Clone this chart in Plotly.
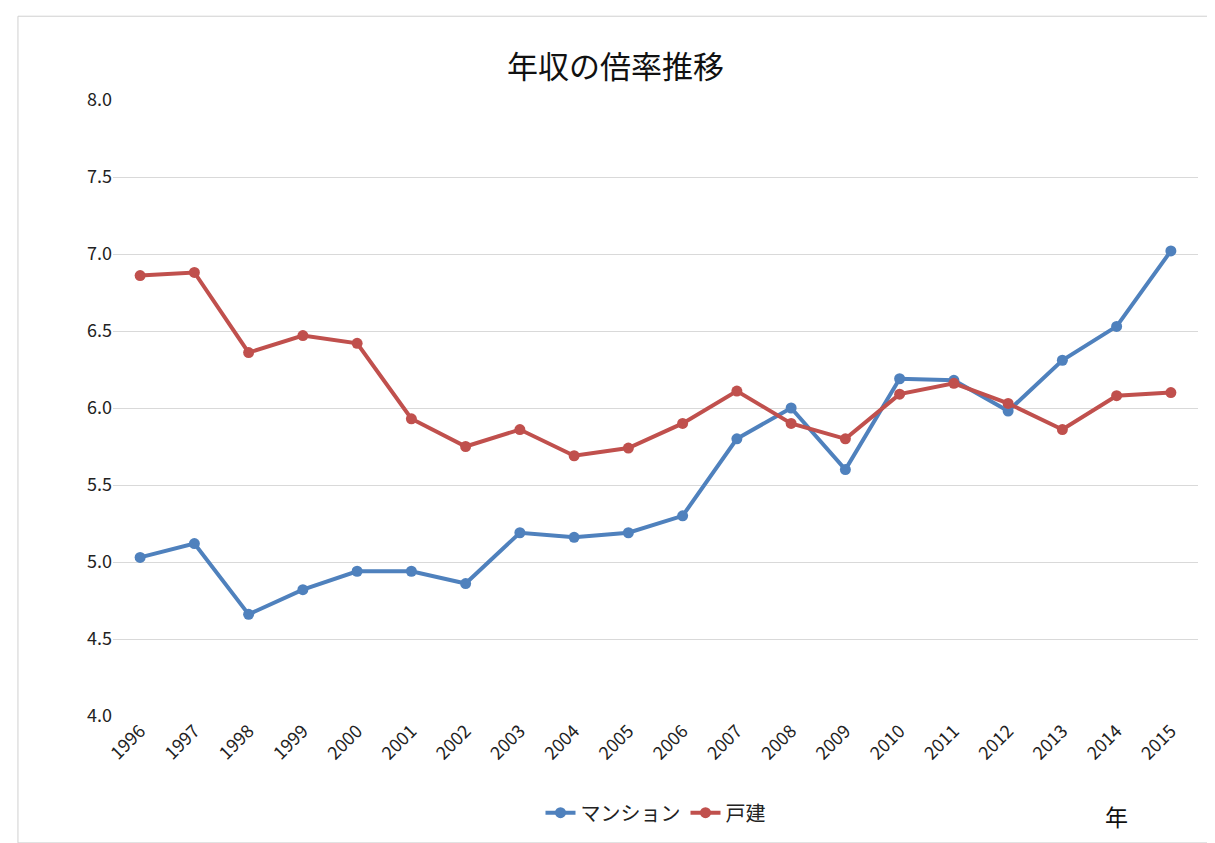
import plotly.graph_objects as go

years = [str(y) for y in range(1996, 2016)]
mansion = [5.03, 5.12, 4.66, 4.82, 4.94, 4.94, 4.86, 5.19, 5.16, 5.19, 5.30, 5.80, 6.00, 5.60, 6.19, 6.18, 5.98, 6.31, 6.53, 7.02]
kodate = [6.86, 6.88, 6.36, 6.47, 6.42, 5.93, 5.75, 5.86, 5.69, 5.74, 5.90, 6.11, 5.90, 5.80, 6.09, 6.16, 6.03, 5.86, 6.08, 6.10]
yticks = [4.0, 4.5, 5.0, 5.5, 6.0, 6.5, 7.0, 7.5, 8.0]

font = "Noto Sans CJK JP"
fig = go.Figure()
fig.add_trace(go.Scatter(x=years, y=mansion, name="マンション", mode="lines+markers",
                         line=dict(color="#4F81BD", width=4), marker=dict(size=11, color="#4F81BD")))
fig.add_trace(go.Scatter(x=years, y=kodate, name="戸建", mode="lines+markers",
                         line=dict(color="#C0504D", width=4), marker=dict(size=11, color="#C0504D")))
fig.update_layout(
    width=1215, height=843, paper_bgcolor="white", plot_bgcolor="white",
    margin=dict(l=105, r=25, t=92, b=135, autoexpand=False),
    font=dict(family=font, size=18, color="#222"),
    title=dict(text="年収の倍率推移", x=0.5, y=0.93, xanchor="center", yanchor="middle",
               font=dict(size=31, color="#111")),
    legend=dict(orientation="h", x=0.5, xanchor="center", y=-0.157, yanchor="middle", font=dict(size=20)),
    xaxis=dict(type="category", tickangle=-45, showgrid=False, showline=False, ticks="",
               range=[-0.5, 19.5], automargin=False),
    yaxis=dict(range=[4.0, 8.0], tickvals=yticks, tickformat=".1f", gridcolor="#D9D9D9",
               zeroline=False, showline=False, ticks="", automargin=False),
    shapes=[dict(type="rect", xref="paper", yref="paper", x0=-0.0876, x1=1.0138, y0=-0.206, y1=1.136,
                 line=dict(color="#D0D0D0", width=1))],
    annotations=[dict(text="年", x=0.925, y=-0.162, xref="paper", yref="paper",
                      showarrow=False, font=dict(size=23, color="#111"), xanchor="center", yanchor="middle")],
)
fig.write_html("out.html")
